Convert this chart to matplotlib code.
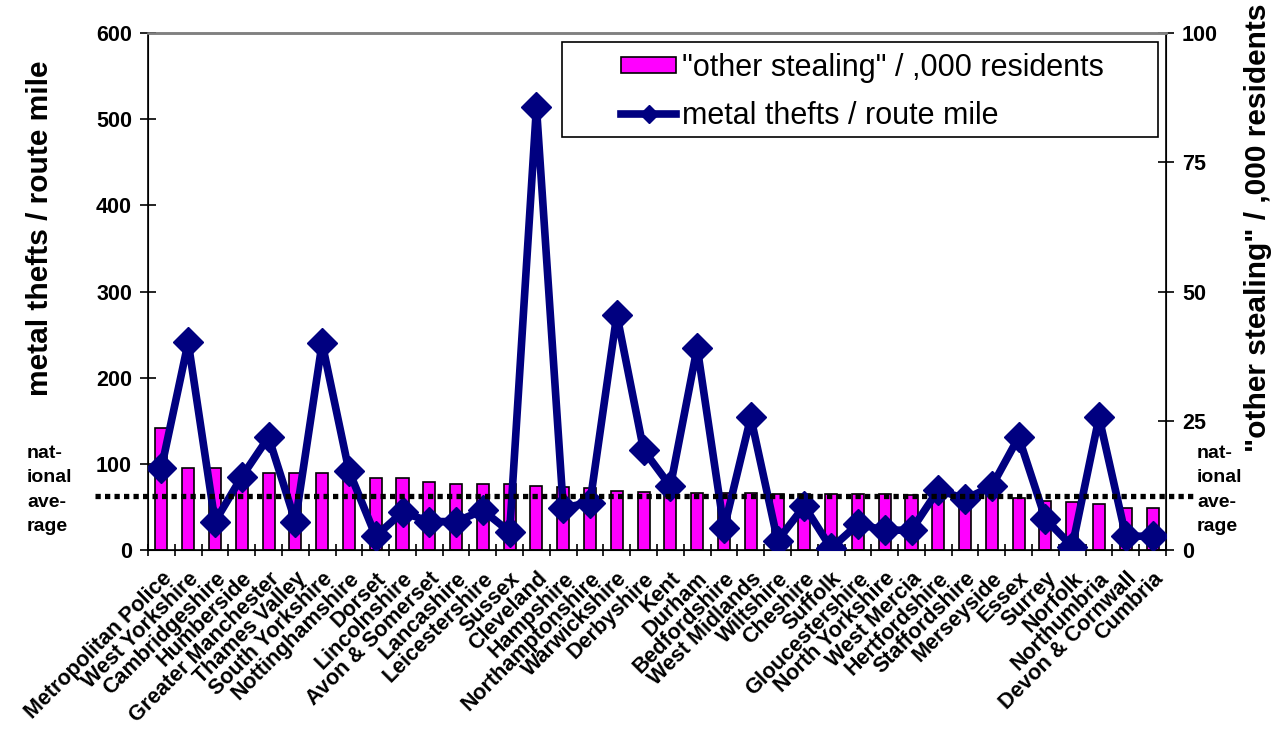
import numpy as np
import matplotlib
matplotlib.use("Agg")
import matplotlib.pyplot as plt
from matplotlib.patches import Rectangle

plt.rcParams["font.family"] = ["Liberation Sans", "DejaVu Sans"]

forces = ["Metropolitan Police", "West Yorkshire", "Cambridgeshire", "Humberside",
          "Greater Manchester", "Thames Valley", "South Yorkshire", "Nottinghamshire",
          "Dorset", "Lincolnshire", "Avon & Somerset", "Lancashire", "Leicestershire",
          "Sussex", "Cleveland", "Hampshire", "Northamptonshire", "Warwickshire",
          "Derbyshire", "Kent", "Durham", "Bedfordshire", "West Midlands", "Wiltshire",
          "Cheshire", "Suffolk", "Gloucestershire", "North Yorkshire", "West Mercia",
          "Hertfordshire", "Staffordshire", "Merseyside", "Essex", "Surrey", "Norfolk",
          "Northumbria", "Devon & Cornwall", "Cumbria"]

# "other stealing" per 1,000 residents (right axis)
other_stealing = [23.6, 15.8, 15.8, 15.4, 14.8, 14.8, 14.8, 14.5, 13.9, 13.9, 13.1,
                  12.8, 12.8, 12.7, 12.3, 12.2, 11.9, 11.5, 11.3, 11.0, 11.0, 11.0,
                  11.0, 10.9, 10.9, 10.8, 10.8, 10.8, 10.6, 10.6, 10.5, 10.6, 10.1,
                  9.5, 9.2, 8.9, 8.2, 8.1]

# metal thefts per route mile (left axis)
metal_thefts = [95, 241, 33, 85, 131, 33, 240, 92, 16, 44, 33, 33, 46, 21, 514, 49,
                55, 273, 116, 74, 235, 25, 154, 11, 51, 2, 30, 23, 23, 70, 59, 74,
                131, 36, 4, 154, 16, 16]

national_average = 63

navy = "#000080"
W, H = 1272, 733
x = np.arange(len(forces))

fig = plt.figure(figsize=(W / 100, H / 100), dpi=100)
ax = fig.add_axes([148 / W, 1 - 550 / H, (1166 - 148) / W, (550 - 33) / H])
ax2 = ax.twinx()

# bars on the right axis, line on the left axis
ax2.bar(x, other_stealing, width=0.45, color="#FF00FF", edgecolor="black",
        linewidth=1.2, label='"other stealing" / ,000 residents', zorder=2)
ax.plot(x, metal_thefts, color=navy, linewidth=5.5, marker="D", markersize=15,
        label="metal thefts / route mile", zorder=5)

ax.set_zorder(ax2.get_zorder() + 1)
ax.patch.set_visible(False)

ax.set_xlim(-0.5, len(forces) - 0.5)
ax.set_ylim(0, 600)
ax2.set_ylim(0, 100)
ax.set_yticks(range(0, 601, 100))
ax2.set_yticks(range(0, 101, 25))

ax.set_xticks(x)
ax.set_xticklabels(forces, rotation=45, ha="right", rotation_mode="anchor",
                   fontsize=15.5, fontweight="bold")
ax.set_xticks(np.arange(-0.5, len(forces)), minor=True)
ax.tick_params(axis="x", which="major", length=0, pad=13)
ax.tick_params(axis="x", which="minor", length=9, direction="inout", width=1.2)
ax.tick_params(axis="y", direction="inout", length=11, width=1.2, labelsize=15.5, pad=6)
ax2.tick_params(axis="y", direction="inout", length=11, width=1.2, labelsize=15.5, pad=6)
for lab in ax.get_yticklabels() + ax2.get_yticklabels():
    lab.set_fontweight("bold")

for sp in ["left", "bottom", "right"]:
    ax2.spines[sp].set_linewidth(1.2)
for a in (ax, ax2):
    a.spines["top"].set_color("#808080")
    a.spines["top"].set_linewidth(1.8)

fig.text(40 / W, 1 - 228 / H, "metal thefts / route mile", rotation=90,
         fontsize=21.5, fontweight="bold", ha="center", va="center")
fig.text(1258 / W, 1 - 228 / H, '"other stealing" / ,000 residents', rotation=90,
         fontsize=21.5, fontweight="bold", ha="center", va="center")

# national average dotted line, running past both axes
ax.plot([-0.052, 1.027], [national_average, national_average],
        transform=ax.get_yaxis_transform(), color="black", linestyle=(0, (1, 0.8)),
        linewidth=3.8, clip_on=False, zorder=6)
for xt in (27 / W, 1197 / W):
    fig.text(xt, 1 - 490 / H, "nat-\nional\nave-\nrage", fontsize=14,
             fontweight="bold", va="center", ha="left", linespacing=1.55)

h1, l1 = ax2.get_legend_handles_labels()
h2, l2 = ax.get_legend_handles_labels()
leg = fig.legend(h1 + h2, l1 + l2, loc="upper left",
                 bbox_to_anchor=(621 / W, 1 - 53 / H), fontsize=22, frameon=False,
                 handlelength=1.8, handleheight=0.45, borderpad=0, borderaxespad=0,
                 labelspacing=0.58, handletextpad=0.2, markerscale=0.6)
fig.patches.append(Rectangle((562 / W, 1 - 137 / H), 596 / W, 95 / H,
                             transform=fig.transFigure, fill=False,
                             edgecolor="black", linewidth=1.2))

fig.savefig("out.png", dpi=100)
